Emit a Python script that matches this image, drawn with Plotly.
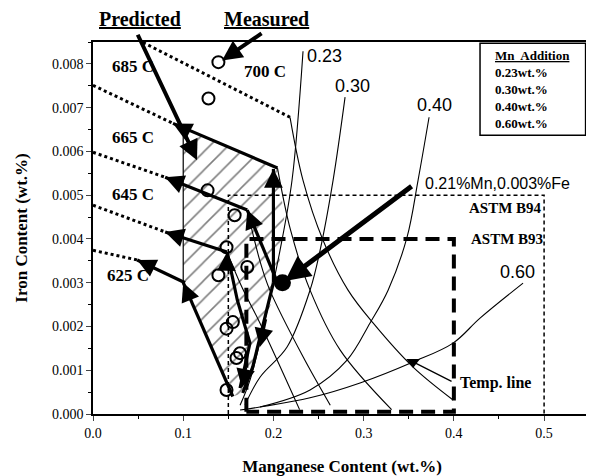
import plotly.graph_objects as go

# ---------------- data (wt.%) ----------------
# measured points (open circles)
meas_mn = [0.139, 0.128, 0.127, 0.157, 0.148, 0.171, 0.139, 0.148, 0.155, 0.163, 0.159, 0.148]
meas_fe = [0.00804, 0.00721, 0.00511, 0.00454, 0.00381, 0.00336, 0.00317, 0.00195, 0.0021, 0.00139, 0.00128, 0.00055]

# alloy point
alloy_mn = [0.21]
alloy_fe = [0.003]

# Mn-addition curves
mn_curves = {
    "0.23": ([0.2328, 0.2206, 0.2073, 0.1907, 0.1741, 0.163],
             [0.00829, 0.00534, 0.00374, 0.00215, 0.00078, 0.0002]),
    "0.30": ([0.2794, 0.2661, 0.2517, 0.2406, 0.2151, 0.1851, 0.1685],
             [0.00724, 0.00534, 0.00374, 0.00283, 0.00153, 0.00084, 0.00021]),
    "0.40": ([0.3725, 0.3603, 0.3481, 0.3271, 0.3071, 0.2816, 0.2406, 0.1851],
             [0.00678, 0.00534, 0.00404, 0.00283, 0.00208, 0.00123, 0.00055, 0.00016]),
    "0.60": ([0.4767, 0.4290, 0.3991, 0.3548, 0.296, 0.2406, 0.1851, 0.163],
             [0.00299, 0.00219, 0.00162, 0.00119, 0.00071, 0.00037, 0.00016, 0.00009]),
}

# temperature lines (thin, descending)
temp_lines = [
    ([0.2184, 0.2328, 0.255, 0.2827, 0.3104, 0.3548, 0.3991],
     [0.00678, 0.00534, 0.00397, 0.00283, 0.00208, 0.00107, 0.00032]),
    ([0.2045, 0.219, 0.2406, 0.274, 0.331],
     [0.00562, 0.0042, 0.00283, 0.00146, 0.0001]),
    ([0.171, 0.185, 0.196, 0.233, 0.263],
     [0.00466, 0.0035, 0.00283, 0.0013, 0.0002]),
    ([0.1486, 0.165, 0.185, 0.229],
     [0.0037, 0.0029, 0.00208, 0.0001]),
]

# dotted isotherm extensions
dotted = [
    ([0.0554, 0.2184], [0.00849, 0.00678]),
    ([0.0, 0.0887], [0.00751, 0.00664]),
    ([0.0, 0.080], [0.00598, 0.00541]),
    ([0.0, 0.080], [0.00477, 0.00416]),
    ([0.0, 0.049], [0.00374, 0.00352]),
]

# predicted (thick) lines
predicted = [
    ([0.0887, 0.2045], [0.00664, 0.00562]),
    ([0.080, 0.171], [0.00541, 0.00466]),
    ([0.080, 0.1486], [0.00416, 0.0037]),
    ([0.049, 0.102], [0.00352, 0.0030]),
    ([0.1, 0.155], [0.0030, 0.0004]),
    ([0.2, 0.2], [0.0030, 0.0056]),
    ([0.2045, 0.171], [0.0030, 0.00466]),
    ([0.2, 0.177, 0.166], [0.0030, 0.00107, 0.00048]),
    ([0.1486, 0.16, 0.174, 0.163], [0.0037, 0.0026, 0.00162, 0.00059]),
]

# arrowheads on predicted lines: (tail_mn, tail_fe, head_mn, head_fe)
heads = [
    (0.10, 0.00652, 0.0887, 0.00664),
    (0.092, 0.00531, 0.080, 0.00541),
    (0.092, 0.00408, 0.080, 0.00416),
    (0.061, 0.0034, 0.049, 0.00352),
    (0.106, 0.0027, 0.1, 0.0030),
    (0.2, 0.0052, 0.2, 0.0056),
    (0.178, 0.0043, 0.171, 0.00466),
    (0.192, 0.0022, 0.185, 0.00153),
    (0.148, 0.0033, 0.1486, 0.0037),
    (0.17, 0.0011, 0.165, 0.0006),
]

# hatched (predicted) region
hatch_mn = [0.1, 0.2045, 0.212, 0.2045, 0.166, 0.155, 0.1, 0.1]
hatch_fe = [0.00653, 0.00562, 0.0045, 0.0030, 0.00048, 0.0004, 0.0030, 0.00653]

# specification boxes
b93_mn = [0.17, 0.17, 0.40, 0.40, 0.17]
b93_fe = [0.00005, 0.004, 0.004, 0.00005, 0.00005]
b94_mn = [0.15, 0.15, 0.50, 0.50]
b94_fe = [0.0, 0.005, 0.005, 0.0]

# pointer arrows (tail_mn, tail_fe, head_mn, head_fe)
pointer_pred = (0.0488, 0.0087, 0.1153, 0.0058)
pointer_meas = (0.1885, 0.00872, 0.143, 0.00808)
pointer_alloy = (0.3548, 0.00523, 0.2129, 0.00304)
pointer_temp = (0.3991, 0.00073, 0.3548, 0.00119)

temp_labels = [("700 C", 0.165, 0.00783), ("685 C", 0.019, 0.00795), ("665 C", 0.019, 0.00631),
               ("645 C", 0.019, 0.00501), ("625 C", 0.0133, 0.00317)]
curve_labels = [("0.23", 0.257, 0.00817), ("0.30", 0.288, 0.00749), ("0.40", 0.379, 0.00705),
                ("0.60", 0.471, 0.00324)]
legend_title = "Mn  Addition"
legend_lines = ["0.23wt.%", "0.30wt.%", "0.40wt.%", "0.60wt.%"]

x_ticks = [0.0, 0.1, 0.2, 0.3, 0.4, 0.5]
y_ticks = [0.000, 0.001, 0.002, 0.003, 0.004, 0.005, 0.006, 0.007, 0.008]

# ---------------- figure ----------------
SERIF = "Liberation Serif, Times New Roman, serif"
SANS = "Liberation Sans, Arial, sans-serif"
# page body has an 8px margin: figure is sized/offset to compensate
W, H = 586, 468
ML, MT, MR, MB = 85, 34, 3, 62
PW, PH = W - ML - MR, H - MT - MB

fig = go.Figure()

# hatched region
fig.add_trace(go.Scatter(x=hatch_mn, y=hatch_fe, mode="lines", fill="toself",
                         fillcolor="rgba(0,0,0,0)", line=dict(width=0),
                         fillpattern=dict(shape="/", fgcolor="black", bgcolor="white",
                                          size=13, solidity=0.12),
                         hoverinfo="skip", showlegend=False))
# left boundary of hatched region
fig.add_trace(go.Scatter(x=[0.1, 0.1], y=[0.0030, 0.00653], mode="lines",
                         line=dict(color="black", width=1.2), showlegend=False))

# spec boxes
fig.add_trace(go.Scatter(x=b94_mn, y=b94_fe, mode="lines",
                         line=dict(color="black", width=1.5, dash="4px,3px"), showlegend=False))
fig.add_trace(go.Scatter(x=b93_mn, y=b93_fe, mode="lines",
                         line=dict(color="black", width=4, dash="14px,8px"), showlegend=False))

# Mn curves
for k, (xs, ys) in mn_curves.items():
    fig.add_trace(go.Scatter(x=xs, y=ys, mode="lines", line=dict(color="black", width=1.1, shape="spline"),
                             showlegend=False))
# temperature lines
for xs, ys in temp_lines:
    fig.add_trace(go.Scatter(x=xs, y=ys, mode="lines", line=dict(color="black", width=1.1, shape="spline"),
                             showlegend=False))
# dotted
for xs, ys in dotted:
    fig.add_trace(go.Scatter(x=xs, y=ys, mode="lines", line=dict(color="black", width=3, dash="dot"),
                             showlegend=False))
# predicted thick
for xs, ys in predicted:
    fig.add_trace(go.Scatter(x=xs, y=ys, mode="lines", line=dict(color="black", width=3.2),
                             showlegend=False))

# measured circles
fig.add_trace(go.Scatter(x=meas_mn, y=meas_fe, mode="markers",
                         marker=dict(symbol="circle-open", size=12, color="black", line=dict(width=2)),
                         showlegend=False))
# alloy dot
fig.add_trace(go.Scatter(x=alloy_mn, y=alloy_fe, mode="markers",
                         marker=dict(symbol="circle", size=17, color="black"), showlegend=False))
# temp line triangle
fig.add_trace(go.Scatter(x=[pointer_temp[2]], y=[pointer_temp[3]], mode="markers",
                         marker=dict(symbol="triangle-down", size=12, color="black"), showlegend=False))

ann = []
for tx, ty, hx, hy in heads:
    ann.append(dict(x=hx, y=hy, ax=tx, ay=ty, xref="x", yref="y", axref="x", ayref="y",
                    text="", showarrow=True, arrowhead=2, arrowsize=1.5, arrowwidth=2.5,
                    arrowcolor="black"))
for (tx, ty, hx, hy), w in [(pointer_pred, 4), (pointer_meas, 4), (pointer_alloy, 5)]:
    ann.append(dict(x=hx, y=hy, ax=tx, ay=ty, xref="x", yref="y", axref="x", ayref="y",
                    text="", showarrow=True, arrowhead=2, arrowsize=1.0, arrowwidth=w,
                    arrowcolor="black"))
tx, ty, hx, hy = pointer_temp
ann.append(dict(x=hx, y=hy, ax=tx, ay=ty, xref="x", yref="y", axref="x", ayref="y",
                text="", showarrow=True, arrowhead=0, arrowwidth=1.3, arrowcolor="black"))

for t, x, y in temp_labels:
    ann.append(dict(x=x, y=y, xref="x", yref="y", text=f"<b>{t}</b>", showarrow=False,
                    xanchor="left", font=dict(family=SERIF, size=17, color="black")))
for t, x, y in curve_labels:
    ann.append(dict(x=x, y=y, xref="x", yref="y", text=t, showarrow=False,
                    xanchor="center", font=dict(family=SANS, size=18, color="black")))
ann.append(dict(x=0.366, y=0.00527, xref="x", yref="y", text="0.21%Mn,0.003%Fe", showarrow=False,
                xanchor="left", font=dict(family=SANS, size=16, color="black")))
ann.append(dict(x=0.500, y=0.00471, xref="x", yref="y", text="<b>ASTM B94</b>", showarrow=False,
                xanchor="right", font=dict(family=SERIF, size=15, color="black")))
ann.append(dict(x=0.501, y=0.00401, xref="x", yref="y", text="<b>ASTM B93</b>", showarrow=False,
                xanchor="right", font=dict(family=SERIF, size=15, color="black")))
ann.append(dict(x=0.4045, y=0.00071, xref="x", yref="y", text="<b>Temp. line</b>", showarrow=False,
                xanchor="left", font=dict(family=SERIF, size=16, color="black")))
# titles above the plot (page pixel positions converted to paper coords)
for txt, cx in [("Predicted", 140), ("Measured", 266)]:
    ann.append(dict(x=(cx - 8 - ML) / PW, y=(MT + PH - (19 - 8)) / PH, xref="paper", yref="paper",
                    text=f"<b><u>{txt}</u></b>", showarrow=False, xanchor="center", yanchor="middle",
                    font=dict(family=SERIF, size=20, color="black")))
# legend box
leg_text = f"<b><u>{legend_title}</u></b><br>" + "<br>".join(f"<b>{s}</b>" for s in legend_lines)
ann.append(dict(x=0.4875, y=0.00742, xref="x", yref="y", text=leg_text, showarrow=False,
                xanchor="center", yanchor="middle", align="left",
                font=dict(family=SERIF, size=13, color="black")))
shapes = [dict(type="rect", xref="x", yref="y", x0=0.429, x1=0.546, y0=0.00637, y1=0.00847,
               line=dict(color="black", width=1.5), fillcolor="rgba(0,0,0,0)")]

fig.update_layout(
    width=W, height=H, margin=dict(l=ML, r=MR, t=MT, b=MB, autoexpand=False),
    plot_bgcolor="white", paper_bgcolor="white", showlegend=False,
    annotations=ann, shapes=shapes,
    xaxis=dict(range=[0, 0.552], tickvals=x_ticks, tickformat=".1f", ticks="outside", ticklen=5,
               showgrid=False, zeroline=False, showline=True, linecolor="black", linewidth=1.5,
               mirror=True, tickfont=dict(family=SERIF, size=14, color="black"),
               minor=dict(dtick=0.05, ticks="outside", ticklen=3, tickcolor="black"),
               title=dict(text="<b>Manganese Content (wt.%)</b>", standoff=21,
                          font=dict(family=SERIF, size=17, color="black"))),
    yaxis=dict(range=[0, 0.0085], tickvals=y_ticks, tickformat=".3f", ticks="outside", ticklen=5,
               showgrid=False, zeroline=False, showline=True, linecolor="black", linewidth=1.5,
               mirror=True, tickfont=dict(family=SERIF, size=14, color="black"),
               minor=dict(dtick=0.0005, ticks="outside", ticklen=3, tickcolor="black"),
               title=dict(text="<b>Iron Content (wt.%)</b>", standoff=20,
                          font=dict(family=SERIF, size=17, color="black"))),
)
fig.write_html("out.html")
